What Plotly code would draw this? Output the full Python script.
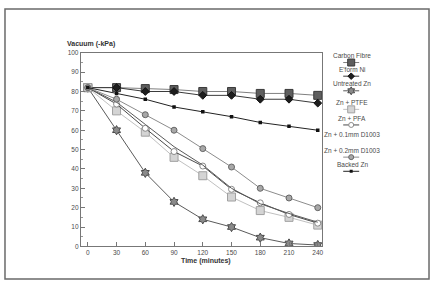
import plotly.graph_objects as go

W, H = 436, 285

time_min = [0, 30, 60, 90, 120, 150, 180, 210, 240]
series_names = ["Carbon Fibre", "E'form Ni", "Untreated Zn", "Zn + PTFE", "Zn + PFA",
                "Zn + 0.1mm D1003", "Zn + 0.2mm D1003", "Backed Zn"]
carbon_fibre = [82, 82, 81.5, 81, 80, 80, 79, 79, 78]
eform_ni = [82, 82, 80, 80, 78, 78, 76, 76, 74]
untreated_zn = [82, 60, 38, 23, 14, 10, 4.5, 1.5, 0.7]
zn_ptfe = [82, 70, 59, 46, 36.5, 25.5, 18.5, 15, 11]
zn_pfa = [82, 73.5, 61, 49, 41.5, 29.5, 22.5, 16.5, 12]
zn_01_d1003 = [82, 74.5, 63, 51.5, 42, 30, 22, 17, 12.5]
zn_02_d1003 = [82, 76, 68, 60, 50.5, 41, 30, 25, 20]
backed_zn = [82, 79, 76, 72, 69.5, 67, 64, 62, 60]
y_ticks = [0, 10, 20, 30, 40, 50, 60, 70, 80, 90, 100]
x_ticks = [0, 30, 60, 90, 120, 150, 180, 210, 240]

values = [carbon_fibre, eform_ni, untreated_zn, zn_ptfe, zn_pfa, zn_01_d1003, zn_02_d1003, backed_zn]

styles = [
    dict(line=dict(color="#808080", width=1), marker=dict(symbol="square", size=8, color="#5e5e5e", line=dict(color="#3a3a3a", width=1))),
    dict(line=dict(color="#3a3a3a", width=1), marker=dict(symbol="diamond", size=6, color="#1e1e1e", line=dict(color="#111111", width=1))),
    dict(line=dict(color="#5a5a5a", width=1), marker=dict(symbol="hexagram", size=7, color="#8a8a8a", line=dict(color="#4a4a4a", width=1))),
    dict(line=dict(color="#c0c0c0", width=1), marker=dict(symbol="square", size=8, color="#d4d4d4", line=dict(color="#a0a0a0", width=1))),
    dict(line=dict(color="#4a4a4a", width=1), marker=dict(symbol="circle", size=6, color="#ffffff", line=dict(color="#8a8a8a", width=1))),
    dict(line=dict(color="#5a5a5a", width=1), marker=dict(symbol="circle", size=1, color="rgba(0,0,0,0)")),
    dict(line=dict(color="#8c8c8c", width=1), marker=dict(symbol="circle", size=6, color="#a8a8a8", line=dict(color="#666666", width=1))),
    dict(line=dict(color="#222222", width=1), marker=dict(symbol="square", size=3.5, color="#111111")),
]
legend_sizes = [7, 5, 6, 7, 5, 1, 5, 3]

def px(x):
    return x / W

def py(y):
    return 1 - y / H

fig = go.Figure()
for name, vals, st in zip(series_names, values, styles):
    fig.add_trace(go.Scatter(x=time_min, y=vals, mode="lines+markers", name=name,
                             line=st["line"], marker=st["marker"], showlegend=False,
                             xaxis="x", yaxis="y"))

# custom legend: text above a short sample, on an auxiliary pixel axis
legend_text_y = [52.5, 67.5, 82, 100.5, 117, 134, 150, 165]
legend_mark_y = [60, 74, 89, 108, 124, None, 157, 171.5]
legend_cx = 352
for name, st, ty, my, ms in zip(series_names, styles, legend_text_y, legend_mark_y, legend_sizes):
    if my is not None:
        fig.add_trace(go.Scatter(x=[legend_cx - 8, legend_cx + 8], y=[my, my], mode="lines",
                                 line=st["line"], showlegend=False, xaxis="x2", yaxis="y2", hoverinfo="skip"))
        mk = dict(st["marker"])
        mk["size"] = ms
        fig.add_trace(go.Scatter(x=[legend_cx], y=[my], mode="markers",
                                 marker=mk, showlegend=False, xaxis="x2", yaxis="y2", hoverinfo="skip"))
    fig.add_annotation(x=legend_cx + 1, y=ty, xref="x2", yref="y2", text=name, showarrow=False,
                       font=dict(size=6.5, color="#4a4a4a"), xanchor="center", yanchor="middle")

axis_font = dict(family="Liberation Sans, Arial, sans-serif", size=6.5, color="#4a4a4a")

fig.update_layout(
    width=W, height=H,
    margin=dict(l=0, r=0, t=0, b=0),
    paper_bgcolor="white", plot_bgcolor="rgba(0,0,0,0)",
    font=dict(family="Liberation Sans, Arial, sans-serif", size=7, color="#444444"),
    showlegend=False,
    xaxis=dict(domain=[px(81), px(323)], range=[-7.3, 244.7], tickvals=x_ticks,
               ticks="inside", ticklen=4, tickcolor="#777777", showgrid=False, zeroline=False,
               showline=True, linecolor="#777777", linewidth=1, mirror=True,
               tickfont=axis_font, anchor="y"),
    yaxis=dict(domain=[py(248.5), py(50)], range=[0, 100], tickvals=y_ticks,
               ticks="inside", ticklen=4, tickcolor="#777777", showgrid=False, zeroline=False,
               showline=True, linecolor="#777777", linewidth=1, mirror=True,
               minor=dict(dtick=5, ticks="inside", ticklen=2, tickcolor="#999999"),
               tickfont=axis_font, anchor="x"),
    xaxis2=dict(domain=[px(330), px(380)], range=[330, 380], visible=False, anchor="y2"),
    yaxis2=dict(domain=[0, 1], range=[H, 0], visible=False, anchor="x2"),
)

fig.add_annotation(x=px(65), y=py(41), xref="paper", yref="paper", text="<b>Vacuum (-kPa)</b>",
                   showarrow=False, xanchor="left", yanchor="middle",
                   font=dict(size=7, color="#333333"))
fig.add_annotation(x=px(206), y=py(263), xref="paper", yref="paper", text="<b>Time (minutes)</b>",
                   showarrow=False, xanchor="center", yanchor="middle",
                   font=dict(size=7, color="#333333"))

fig.add_shape(type="rect", xref="paper", yref="paper", x0=px(5), x1=px(430), y0=py(282), y1=py(5),
              line=dict(color="#6a6a6a", width=1.5), fillcolor="rgba(0,0,0,0)", layer="below")

fig.write_html("out.html")
